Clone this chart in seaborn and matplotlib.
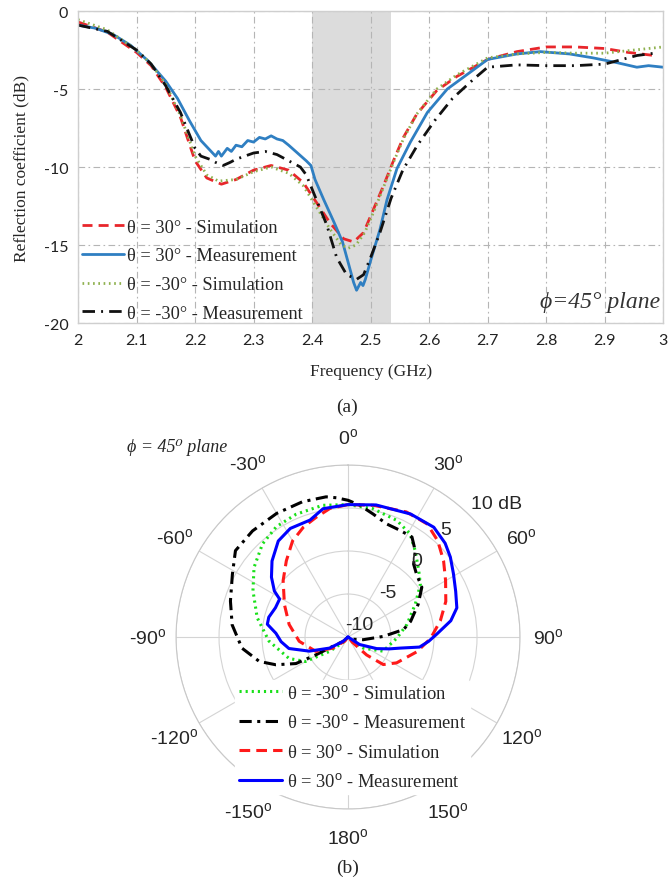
import numpy as np
import pandas as pd
import matplotlib
matplotlib.use('Agg')
import matplotlib.pyplot as plt
import seaborn as sns

# ---------- (a) reflection coefficient vs frequency ----------
freq_sim_p30 = [2.00, 2.05, 2.10, 2.125, 2.15, 2.175, 2.20, 2.22, 2.245, 2.27, 2.30, 2.33, 2.36,
                2.385, 2.408, 2.431, 2.454, 2.471, 2.488, 2.505, 2.522, 2.539, 2.556, 2.579,
                2.613, 2.647, 2.70, 2.75, 2.80, 2.85, 2.90, 2.94, 2.985]
s11_sim_p30 = [-0.7, -1.35, -2.65, -3.5, -4.9, -6.8, -9.6, -10.7, -11.1, -10.8, -10.2, -9.9, -10.2,
               -11.0, -12.3, -13.6, -14.6, -14.8, -14.2, -12.7, -11.2, -9.6, -8.1, -6.6,
               -5.1, -4.2, -3.1, -2.6, -2.3, -2.3, -2.4, -2.65, -2.85]

freq_meas_p30 = [2.00, 2.03, 2.06, 2.09, 2.12, 2.15, 2.17, 2.19, 2.21, 2.225, 2.235, 2.24, 2.245,
                 2.255, 2.262, 2.27, 2.28, 2.29, 2.30, 2.31, 2.32, 2.33, 2.34, 2.35, 2.36, 2.375,
                 2.39, 2.398, 2.405, 2.42, 2.437, 2.452, 2.463, 2.471, 2.476, 2.483, 2.487, 2.491,
                 2.50, 2.516, 2.528, 2.545, 2.568, 2.597, 2.631, 2.671, 2.70, 2.75, 2.79, 2.84,
                 2.88, 2.92, 2.955, 2.975, 3.00]
s11_meas_p30 = [-0.9, -1.1, -1.5, -2.2, -3.2, -4.5, -5.6, -7.0, -8.3, -8.9, -9.3, -9.0, -9.3,
                -8.8, -9.0, -8.6, -8.7, -8.3, -8.4, -8.1, -8.2, -8.0, -8.2, -8.3, -8.6, -9.1,
                -9.6, -9.9, -10.8, -12.1, -13.5, -14.8, -16.3, -17.4, -17.9, -17.4, -17.6, -17.2,
                -16.0, -14.0, -12.1, -10.1, -8.4, -6.5, -5.0, -3.9, -3.1, -2.75, -2.6, -2.75,
                -3.0, -3.3, -3.6, -3.5, -3.6]

freq_sim_m30 = [2.00, 2.05, 2.10, 2.125, 2.15, 2.175, 2.20, 2.22, 2.24, 2.27, 2.30, 2.33, 2.36,
                2.385, 2.408, 2.431, 2.45, 2.462, 2.475, 2.49, 2.505, 2.522, 2.539, 2.556, 2.579,
                2.613, 2.647, 2.70, 2.75, 2.80, 2.85, 2.90, 2.95, 3.00]
s11_sim_m30 = [-0.55, -1.2, -2.5, -3.4, -4.7, -6.7, -9.3, -10.5, -10.9, -10.8, -10.3, -10.0, -10.4,
               -11.2, -12.6, -14.0, -15.0, -15.2, -15.0, -14.2, -12.9, -11.3, -9.7, -8.2, -6.6,
               -5.0, -4.1, -3.0, -2.75, -2.65, -2.7, -2.7, -2.5, -2.3]

freq_meas_m30 = [2.00, 2.05, 2.10, 2.125, 2.15, 2.175, 2.20, 2.21, 2.225, 2.235, 2.248, 2.26, 2.27,
                 2.285, 2.30, 2.32, 2.34, 2.36, 2.38, 2.39, 2.402, 2.425, 2.442, 2.459, 2.476,
                 2.488, 2.50, 2.516, 2.535, 2.555, 2.58, 2.61, 2.64, 2.675, 2.70, 2.75, 2.80,
                 2.85, 2.90, 2.93, 2.955, 2.985]
s11_meas_m30 = [-0.9, -1.3, -2.5, -3.4, -4.8, -6.5, -8.8, -9.3, -9.5, -9.7, -9.9, -9.7, -9.5,
                -9.3, -9.1, -9.0, -9.2, -9.6, -10.0, -10.5, -11.6, -13.7, -15.8, -16.9, -17.2,
                -16.9, -15.8, -14.2, -12.0, -10.2, -8.6, -7.0, -5.6, -4.4, -3.6, -3.45, -3.5,
                -3.5, -3.4, -3.1, -2.85, -2.7]

freq_ticks = [2.0, 2.1, 2.2, 2.3, 2.4, 2.5, 2.6, 2.7, 2.8, 2.9, 3.0]
freq_ticklabels = ['2', '2.1', '2.2', '2.3', '2.4', '2.5', '2.6', '2.7', '2.8', '2.9', '3']
s11_ticks = [-20, -15, -10, -5, 0]
band = [2.4, 2.535]

# ---------- (b) radiation pattern, phi = 45 deg plane ----------
ang_sim_m30 = [-180, -142, -128, -120, -110, -93, -78, -64, -53.5, -42.6, -33, -23, -11, 0,
               11, 22.7, 31, 38, 47, 54, 64, 78, 91, 112, 126, 140, 180]
gain_sim_m30 = [-10, -9.4, -7.3, -4.3, -2.7, -0.8, 0.8, 2.3, 3.6, 4.7, 5.3, 5.5, 5.6, 5.4,
                5.2, 4.7, 4.0, 2.7, 1.25, 0.4, -1.3, -3.0, -4.3, -5.6, -7.8, -9.3, -10]

ang_meas_m30 = [-180, -135, -123, -119, -117, -111, -105.4, -96, -84, -73, -61.5, -52.5, -42,
                -30, -18.6, -8.9, -4.8, 0, 5, 11.5, 18.8, 26, 32.6, 38, 42, 47.6, 56, 65, 76,
                82.4, 89, 100, 120, 180]
gain_meas_m30 = [-10, -9.3, -8.4, -5.7, -3.2, -1.0, 0.7, 2.4, 3.55, 4.3, 5.3, 6.5, 6.6,
                 6.6, 6.6, 6.5, 6.25, 5.9, 5.4, 4.6, 3.9, 3.8, 3.8, 2.7, 1.4, 0.8, 0.35, -1.0, -2.5,
                 -3.5, -5.9, -8.2, -9.5, -10]

ang_sim_p30 = [-180, -142, -126, -114, -95, -78, -63, -49, -39, -30, -22, -15, -8, 0, 11, 25,
               35, 43, 51.5, 60, 70, 80, 91, 102, 118, 128, 134, 140, 180]
gain_sim_p30 = [-10, -9.4, -7.8, -5.9, -4.3, -3.0, -1.7, 0.0, 1.4, 2.9, 3.8, 4.4, 5.1, 5.4, 5.6,
                6.05, 6.05, 5.3, 4.2, 3.1, 2.1, 0.9, -0.4, -1.8, -3.6, -4.8, -7.0, -9.2, -10]

ang_meas_p30 = [-180, -131, -121, -110, -101, -94, -87, -81, -76, -68, -61, -58, -52, -45, -36,
                -28, -18, -11, 0, 12, 27, 38, 46, 52, 59, 67, 75, 81, 88, 93, 98, 102, 106, 112,
                123, 180]
gain_meas_p30 = [-10, -9.2, -7.5, -5.2, -3.0, -2.2, -1.6, -0.5, -0.5, -0.9, -0.9, 0.1, 1.3, 2.5,
                 3.8, 4.3, 4.3, 5.2, 5.4, 5.7, 6.05, 6.2, 5.7, 5.1, 4.3, 3.6, 3.1, 2.1, 0.35,
                 -0.6, -1.6, -3.8, -5.0, -6.4, -8.4, -10]

theta_ticks = [0, 30, 60, 90, 120, 150, 180, 210, 240, 270, 300, 330]
theta_ticklabels = ['0', '30', '60', '90', '120', '150', '180', '-150', '-120', '-90', '-60', '-30']
r_rings = [-5, 0, 5, 10]
r_labels = ['-10', '-5', '0', '5', '10 dB']
r_label_vals = [-10, -5, 0, 5, 10]

# ---------- style ----------
sns.set_style('white')
plt.rcParams['font.family'] = ['Liberation Serif', 'DejaVu Serif']
plt.rcParams['mathtext.fontset'] = 'custom'
plt.rcParams['mathtext.rm'] = 'Liberation Sans'
plt.rcParams['mathtext.it'] = 'Liberation Sans:italic'

fig = plt.figure(figsize=(6.68, 8.87), dpi=100)

# ---------- panel (a) ----------
ax1 = fig.add_axes([0.1168, 0.6347, 0.876, 0.3517])
ax1.axvspan(band[0], band[1], color='#dcdcdc', lw=0, zorder=0)

labels_a = ['θ = 30° - Simulation', 'θ = 30° - Measurement',
            'θ = -30° - Simulation', 'θ = -30° - Measurement']
df_a = pd.concat([
    pd.DataFrame({'f': freq_sim_p30, 's11': s11_sim_p30, 'curve': labels_a[0]}),
    pd.DataFrame({'f': freq_meas_p30, 's11': s11_meas_p30, 'curve': labels_a[1]}),
    pd.DataFrame({'f': freq_sim_m30, 's11': s11_sim_m30, 'curve': labels_a[2]}),
    pd.DataFrame({'f': freq_meas_m30, 's11': s11_meas_m30, 'curve': labels_a[3]}),
])
pal_a = {labels_a[0]: '#e8262b', labels_a[1]: '#2f7fc2',
         labels_a[2]: '#8fb14f', labels_a[3]: '#111111'}
dash_a = {labels_a[0]: (3.6, 2.2), labels_a[1]: '',
          labels_a[2]: (0.6, 1.3), labels_a[3]: (4.5, 2.2, 0.7, 2.2)}
sns.lineplot(data=df_a, x='f', y='s11', hue='curve', style='curve', hue_order=labels_a,
             style_order=labels_a, palette=pal_a, dashes=dash_a, lw=2, sort=False,
             estimator=None, ax=ax1)

ax1.set_xlim(2, 3)
ax1.set_ylim(-20, 0)
ax1.set_xticks(freq_ticks)
ax1.set_xticklabels(freq_ticklabels, family='Lato', fontsize=11.5)
ax1.set_yticks(s11_ticks)
ax1.set_yticklabels([str(v) for v in s11_ticks], family='Lato', fontsize=11.5)
ax1.tick_params(length=0, pad=7, colors='#222222')
ax1.grid(True, color='#b5b5b5', lw=0.8, linestyle=(0, (6, 3, 1.5, 3)))
for sp in ax1.spines.values():
    sp.set_color('#cfcfcf')
    sp.set_linewidth(1)
ax1.set_xlabel('Frequency (GHz)', fontsize=12.5, labelpad=12)
ax1.set_ylabel('Reflection coefficient (dB)', fontsize=12.5, labelpad=10)
h, l = ax1.get_legend_handles_labels()
ax1.legend(h, l, loc='lower left', bbox_to_anchor=(0.006, 0.004), frameon=False, fontsize=13.2,
           handlelength=2.3, handletextpad=0.2, labelspacing=0.64, borderpad=0.0,
           borderaxespad=0.0)
ax1.text(0.995, 0.07, 'ϕ=45° plane', transform=ax1.transAxes, ha='right', va='center',
         fontsize=17, style='italic', color='#333333')
fig.text(0.52, 1 - 407 / 887, '(a)', ha='center', va='center', fontsize=14)

# ---------- panel (b) ----------
ax2 = fig.add_axes([0.2635, 0.0868, 0.515, 0.3878], projection='polar')
ax2.set_theta_zero_location('N')
ax2.set_theta_direction(-1)

labels_b = ['θ = -30$^{\\rm o}$ - Simulation', 'θ = -30$^{\\rm o}$ - Measurement',
            'θ = 30$^{\\rm o}$ - Simulation', 'θ = 30$^{\\rm o}$ - Measurement']
df_b = pd.concat([
    pd.DataFrame({'th': np.deg2rad(ang_sim_m30), 'g': gain_sim_m30, 'curve': labels_b[0]}),
    pd.DataFrame({'th': np.deg2rad(ang_meas_m30), 'g': gain_meas_m30, 'curve': labels_b[1]}),
    pd.DataFrame({'th': np.deg2rad(ang_sim_p30), 'g': gain_sim_p30, 'curve': labels_b[2]}),
    pd.DataFrame({'th': np.deg2rad(ang_meas_p30), 'g': gain_meas_p30, 'curve': labels_b[3]}),
])
pal_b = {labels_b[0]: '#19e019', labels_b[1]: '#000000',
         labels_b[2]: '#ff1a1a', labels_b[3]: '#0000ff'}
dash_b = {labels_b[0]: (0.7, 1.3), labels_b[1]: (4.0, 1.8, 1.0, 1.8),
          labels_b[2]: (3.5, 2.0), labels_b[3]: ''}
sns.lineplot(data=df_b, x='th', y='g', hue='curve', style='curve', hue_order=labels_b,
             style_order=labels_b, palette=pal_b, dashes=dash_b, lw=2.2, sort=False,
             estimator=None, ax=ax2)

ax2.set_rlim(-10, 10)
ax2.set_rgrids(r_rings, labels=['' for _ in r_rings])
ax2.set_thetagrids(theta_ticks, [t + '$^{\\rm o}$' for t in theta_ticklabels],
                   family='Liberation Sans', fontsize=14)
ax2.tick_params(axis='x', pad=10)
ax2.grid(True, color='#d4d4d4', lw=0.8)
ax2.spines['polar'].set_color('#c8c8c8')
ax2.spines['polar'].set_linewidth(0.8)
ax2.set_xlabel('')
ax2.set_ylabel('')
for v, lab in zip(r_label_vals, r_labels):
    off = 3.2 if v == 10 else 1.9
    ang = 48 if v == 10 else 42
    ax2.text(np.deg2rad(ang), v + off, lab, ha='center', va='center', family='Liberation Sans',
             fontsize=14, clip_on=False)
h, l = ax2.get_legend_handles_labels()
leg = ax2.legend(h, l, loc='upper left', bbox_to_anchor=(226 / 668, 1 - 672 / 887),
                 bbox_transform=fig.transFigure, fontsize=13.3, handlelength=2.35,
                 handletextpad=0.25, labelspacing=0.62, borderpad=0.2, frameon=True,
                 facecolor='white', edgecolor='white', framealpha=1)
fig.text(127 / 668, 1 - 448 / 887, 'ϕ = 45⁰ plane', ha='left', va='center', fontsize=13,
         style='italic')
fig.text(0.52, 1 - 868 / 887, '(b)', ha='center', va='center', fontsize=14)

fig.savefig('out.png', dpi=100)
